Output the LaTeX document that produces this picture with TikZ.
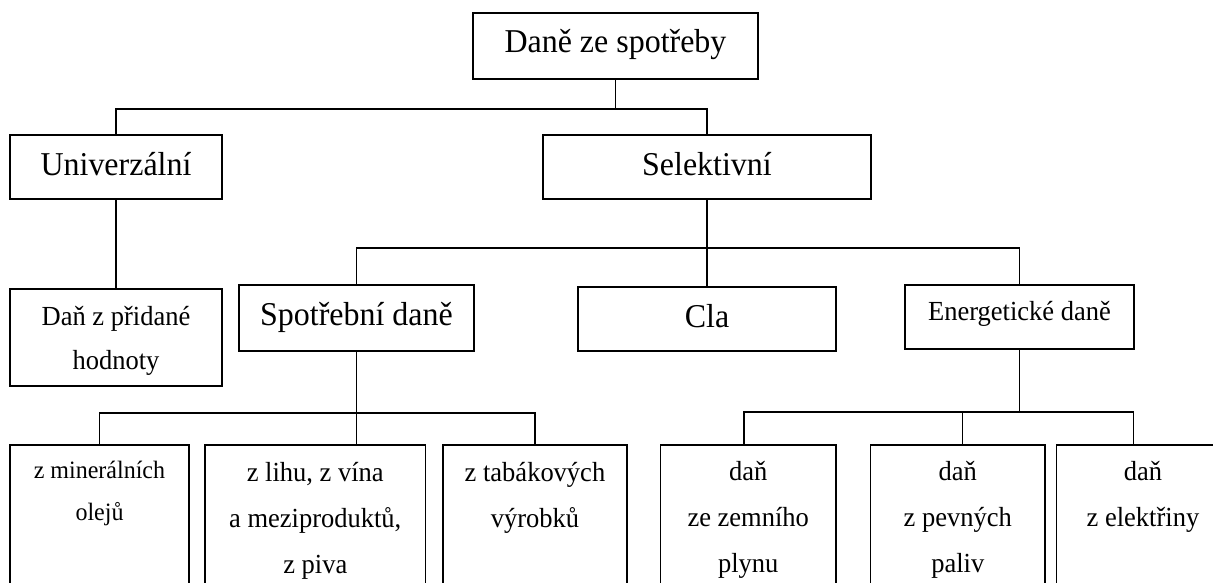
\documentclass[tikz,border=0pt]{standalone}
\usepackage{fontspec}
\setmainfont[FakeStretch=0.96]{Liberation Serif}
\newcommand\fstrut{\rule{0pt}{30pt}}
\tikzset{
  box/.style={draw, line width=1.7pt, inner sep=0pt, outer sep=0pt, anchor=north west},
  lbl/.style={anchor=north, inner sep=0pt, outer sep=0pt, align=center},
  big/.style={font=\fontsize{33.3}{38}\selectfont},
  mid/.style={font=\fontsize{27.6}{46}\selectfont},
  midb/.style={font=\fontsize{27.6}{43.6}\selectfont},
  small/.style={font=\fontsize{25}{42.4}\selectfont},
  conn/.style={line width=1.7pt},
}
\begin{document}
\begin{tikzpicture}[x=1pt,y=-1pt]
\useasboundingbox[fill=white] (0,0) rectangle (1213,582);
\begin{scope}
\clip (0,0) rectangle (1213,582);
% boxes
\node[box, minimum width=285pt, minimum height=66pt] (top) at (473,13) {};
\node[box, minimum width=212pt, minimum height=64pt] (univ) at (10,135) {};
\node[box, minimum width=328pt, minimum height=64pt] (sel) at (543,135) {};
\node[box, minimum width=212pt, minimum height=97pt] (dph) at (10,289) {};
\node[box, minimum width=235pt, minimum height=66pt] (spot) at (239,285) {};
\node[box, minimum width=258pt, minimum height=64pt] (cla) at (578,287) {};
\node[box, minimum width=229pt, minimum height=64pt] (energ) at (905,285) {};
\node[box, minimum width=179pt, minimum height=155pt] (b1) at (10,445) {};
\node[box, minimum width=220.5pt, minimum height=155pt] (b2) at (205,445) {};
\node[box, minimum width=184pt, minimum height=155pt] (b3) at (443,445) {};
\node[box, minimum width=175.5pt, minimum height=155pt] (b4) at (660.5,445) {};
\node[box, minimum width=174.5pt, minimum height=155pt] (b5) at (870.5,445) {};
\node[box, minimum width=173pt, minimum height=155pt] (b6) at (1056.5,445) {};
% labels
\node[lbl, big] (ttop) at ([yshift=-9pt]top.north) {\fstrut Daně ze spotřeby};
\node[lbl, big] (tuniv) at ([yshift=-10.5pt]univ.north) {\fstrut Univerzální};
\node[lbl, big] (tsel) at ([yshift=-10pt]sel.north) {\fstrut Selektivní};
\node[lbl, midb] (tdph) at ([yshift=-6.7pt]dph.north) {\fstrut Daň z přidané\\hodnoty};
\node[lbl, big] (tspot) at ([yshift=-10pt]spot.north) {\fstrut Spotřební daně};
\node[lbl, big] (tcla) at ([yshift=-10pt]cla.north) {\fstrut Cla};
\node[lbl, mid] (tenerg) at ([yshift=-5.7pt]energ.north) {\fstrut Energetické daně};
\node[lbl, small] (tb1) at ([yshift=-3.3pt]b1.north) {\fstrut z minerálních\\olejů};
\node[lbl, mid] (tb2) at ([yshift=-6pt]b2.north) {\fstrut z lihu, z vína\\a meziproduktů,\\z piva};
\node[lbl, mid] (tb3) at ([yshift=-6pt]b3.north) {\fstrut z tabákových\\výrobků};
\node[lbl, mid] (tb4) at ([yshift=-5pt]b4.north) {\fstrut daň\\ze zemního\\plynu};
\node[lbl, mid] (tb5) at ([yshift=-5pt]b5.north) {\fstrut daň\\z pevných\\paliv};
\node[lbl, mid] (tb6) at ([yshift=-5pt]b6.north) {\fstrut daň\\z elektřiny};
% connectors
\coordinate (j1) at (615.5,109);
\draw[conn] (top.south) -- (j1);
\draw[conn] (univ.north) |- (j1) -| (sel.north);
\draw[conn] (univ.south) -- (dph.north);
\coordinate (j2) at (707,248);
\draw[conn] (sel.south) -- (cla.north);
\draw[conn] (spot.north) |- (j2) -| (energ.north);
\coordinate (j3) at (356.5,413);
\draw[conn] (spot.south) -- (spot.south |- b2.north);
\draw[conn] (b1.north) |- (j3) -| (b3.north);
\coordinate (j4) at (1019.5,412);
\draw[conn] (energ.south) -- (j4);
\draw[conn] ([xshift=-4pt]b4.north) |- (j4) -| ([xshift=77pt]b6.north west);
\draw[conn] ([xshift=4.7pt]b5.north) -- ([xshift=4.7pt]b5.north |- j4);
\end{scope}
\end{tikzpicture}
\end{document}
